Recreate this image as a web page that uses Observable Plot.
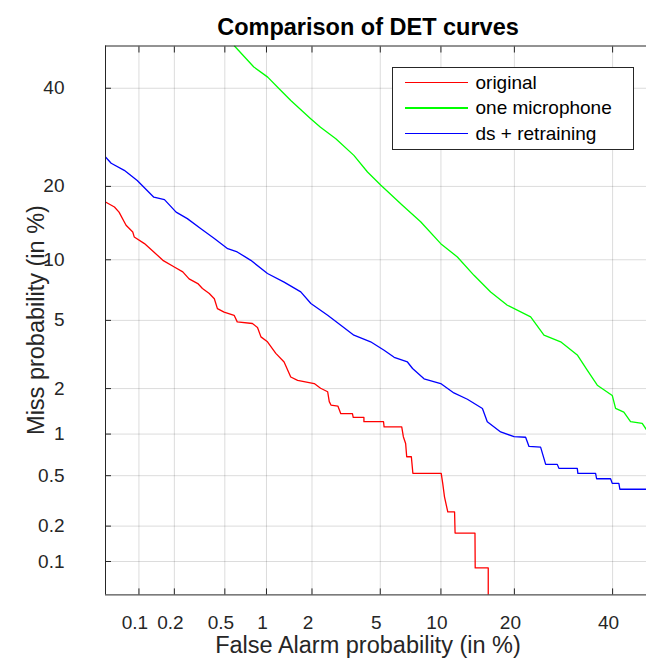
<!DOCTYPE html>
<html>
<head>
<meta charset="utf-8">
<script src="https://cdn.jsdelivr.net/npm/d3@7"></script>
<script src="https://cdn.jsdelivr.net/npm/@observablehq/plot@0.6"></script>
<style>
  body { margin: 0; background: #fff; }
  #wrap { position: relative; width: 646px; height: 661px; overflow: hidden;
          font-family: "Liberation Sans", Arial, Helvetica, sans-serif; color: #262626; }
  #chart { position: absolute; left: 0; top: 0; }
  #title { position: absolute; left: 0; width: 736px; top: 13px; text-align: center;
           font-weight: bold; font-size: 23.5px; line-height: 28px; color: #000; }
  #xlabel { position: absolute; left: 0; width: 736px; top: 632px; text-align: center;
            font-size: 23.5px; line-height: 26px; }
  #ylabel { position: absolute; left: -164px; top: 307px; width: 400px; height: 26px; line-height: 26px;
            text-align: center; font-size: 23.5px; transform: rotate(-90deg); transform-origin: 200px 13px; }
  #legend { position: absolute; left: 391.5px; top: 66.5px; width: 242px; height: 83px; box-sizing: border-box;
            border: 1px solid #262626; background: #fff; }
  .li { position: absolute; left: 0; height: 24px; width: 240px; }
  .sw { position: absolute; left: 12px; top: 11px; width: 63px; height: 1.5px; }
  .lt { position: absolute; left: 83px; top: 0; font-size: 19px; line-height: 24px; color: #000; }
</style>
</head>
<body>
<div id="wrap">
  <div id="chart"></div>
  <div id="title">Comparison of DET curves</div>
  <div id="xlabel">False Alarm probability (in %)</div>
  <div id="ylabel">Miss probability (in %)</div>
  <div id="legend"></div>
</div>
<script>
// ---- data (percent) ----
const tickValues = [0.1, 0.2, 0.5, 1, 2, 5, 10, 20, 40];
const seriesNames = ["original", "one microphone", "ds + retraining"];
const seriesColors = ["#ff0000", "#00ff00", "#0000ff"];

const originalFA = [0.05, 0.0604, 0.0665, 0.0769, 0.0882, 0.0909, 0.1117, 0.1345, 0.1605, 0.1998, 0.2345, 0.2636, 0.3094, 0.3366, 0.3805, 0.4161, 0.4393, 0.4939, 0.5866, 0.6182, 0.7961, 0.8654, 0.915, 1.016, 1.159, 1.318, 1.459, 1.618, 2.066, 2.263, 2.50, 2.557, 2.618, 2.88, 2.997, 3.502, 3.54, 4.069, 4.069, 5.205, 5.24, 6.472, 6.595, 6.773, 6.857, 7.232, 7.358, 10.03, 10.19, 10.38, 10.74, 11.51, 11.57, 14.06, 14.09, 15.91, 15.91];
const originalMiss = [17.48, 16.72, 15.96, 14.12, 13.24, 12.62, 11.81, 10.85, 9.94, 9.26, 8.78, 8.14, 7.72, 7.30, 6.89, 6.49, 5.77, 5.53, 5.32, 4.91, 4.81, 4.58, 4.06, 3.81, 3.27, 2.91, 2.36, 2.25, 2.15, 2.01, 1.91, 1.65, 1.568, 1.544, 1.375, 1.375, 1.299, 1.299, 1.215, 1.215, 1.12, 1.12, 0.959, 0.859, 0.690, 0.690, 0.521, 0.521, 0.437, 0.344, 0.261, 0.261, 0.175, 0.175, 0.0877, 0.0877, 0.04];

const oneMicFA = [0.59, 0.815, 1.02, 1.22, 1.46, 1.97, 2.26, 2.80, 3.57, 4.26, 5.04, 6.52, 8.03, 9.98, 11.84, 13.93, 16.26, 18.84, 22.84, 25.32, 28.62, 32.10, 34.26, 36.50, 39.92, 40.69, 42.62, 44.20, 46.97, 48.0, 50];
const oneMicMiss = [50, 45.0, 42.6, 39.9, 37.2, 33.1, 31.3, 28.9, 25.6, 22.5, 20.2, 17.0, 14.6, 11.8, 10.3, 8.46, 7.02, 6.01, 5.22, 4.15, 3.81, 3.20, 2.60, 2.10, 1.81, 1.49, 1.41, 1.215, 1.184, 1.07, 1.05];

const dsFA = [0.05, 0.0564, 0.0741, 0.0966, 0.1345, 0.1655, 0.2068, 0.2552, 0.3274, 0.4161, 0.5254, 0.6182, 0.7758, 1.016, 1.318, 1.696, 1.968, 2.50, 2.997, 3.571, 4.431, 5.241, 5.918, 6.915, 7.333, 8.336, 9.976, 11.43, 13.07, 15.08, 15.77, 17.78, 19.94, 21.94, 22.54, 24.68, 25.65, 27.94, 28.27, 32.10, 32.23, 36.12, 36.35, 39.53, 39.92, 41.46, 41.69, 50];
const dsMiss = [25.3, 24.1, 22.8, 21.0, 18.24, 17.85, 15.96, 15.04, 13.67, 12.42, 11.22, 10.85, 9.94, 8.63, 7.85, 7.02, 6.13, 5.32, 4.71, 4.15, 3.81, 3.41, 3.10, 2.91, 2.66, 2.30, 2.15, 1.877, 1.71, 1.49, 1.215, 1.034, 0.959, 0.95, 0.819, 0.81, 0.607, 0.607, 0.567, 0.567, 0.521, 0.521, 0.474, 0.474, 0.437, 0.437, 0.394, 0.394];

// ---- normal deviate (probit) ----
function probit(p) {
  const a = [-3.969683028665376e+01, 2.209460984245205e+02, -2.759285104469687e+02, 1.383577518672690e+02, -3.066479806614716e+01, 2.506628277459239e+00];
  const b = [-5.447609879822406e+01, 1.615858368580409e+02, -1.556989798598866e+02, 6.680131188771972e+01, -1.328068155288572e+01];
  const c = [-7.784894002430293e-03, -3.223964580411365e-01, -2.400758277161838e+00, -2.549732539343734e+00, 4.374664141464968e+00, 2.938163982698783e+00];
  const d = [7.784695709041462e-03, 3.224671290700398e-01, 2.445134137142996e+00, 3.754408661907416e+00];
  const plow = 0.02425;
  if (p < plow) {
    const q = Math.sqrt(-2 * Math.log(p));
    return (((((c[0]*q+c[1])*q+c[2])*q+c[3])*q+c[4])*q+c[5]) / ((((d[0]*q+d[1])*q+d[2])*q+d[3])*q+1);
  } else if (p <= 1 - plow) {
    const q = p - 0.5, r = q * q;
    return (((((a[0]*r+a[1])*r+a[2])*r+a[3])*r+a[4])*r+a[5])*q / (((((b[0]*r+b[1])*r+b[2])*r+b[3])*r+b[4])*r+1);
  } else {
    const q = Math.sqrt(-2 * Math.log(1 - p));
    return -(((((c[0]*q+c[1])*q+c[2])*q+c[3])*q+c[4])*q+c[5]) / ((((d[0]*q+d[1])*q+d[2])*q+d[3])*q+1);
  }
}
const zp = v => probit(v / 100);

const toRows = (name, fa, miss) => fa.map((f, i) => ({series: name, fa: f, miss: miss[i]}));
const rows = [
  ...toRows(seriesNames[0], originalFA, originalMiss),
  ...toRows(seriesNames[1], oneMicFA, oneMicMiss),
  ...toRows(seriesNames[2], dsFA, dsMiss)
];

const zmin = zp(0.05), zmax = 0;
const tz = tickValues.map(zp);
const fmt = z => { const i = tz.findIndex(t => Math.abs(t - z) < 1e-9); return i >= 0 ? String(tickValues[i]) : ""; };
const axisColor = "#262626";

const chart = Plot.plot({
  width: 646, height: 661,
  marginTop: 45.5, marginBottom: 66.6, marginLeft: 105, marginRight: 0,
  style: {fontFamily: "'Liberation Sans', Arial, Helvetica, sans-serif", fontSize: "19px", color: axisColor, background: "#fff"},
  x: {domain: [zmin, zmax], range: [105, 654.4]},
  y: {domain: [zmin, zmax]},
  color: {domain: seriesNames, range: seriesColors},
  marks: [
    Plot.gridX(tz, {stroke: "#000", strokeOpacity: 0.14, strokeWidth: 1}),
    Plot.gridY(tz, {stroke: "#000", strokeOpacity: 0.14, strokeWidth: 1}),
    Plot.line(rows, {x: d => zp(d.fa), y: d => zp(d.miss), z: "series", stroke: "series", strokeWidth: 1.3, clip: true}),
    Plot.ruleX([zmin], {stroke: axisColor, strokeWidth: 1}),
    Plot.ruleY([zmin, zmax], {stroke: axisColor, strokeWidth: 1}),
    Plot.axisX(tz, {anchor: "bottom", tickSize: 0, tickPadding: 21, dx: -4, tickFormat: fmt, fontSize: 19, fill: axisColor, label: null}),
    Plot.axisY(tz, {anchor: "left", tickSize: 0, tickPadding: 41, tickFormat: fmt, fontSize: 19, fill: axisColor, label: null}),
    Plot.axisX(tz, {anchor: "bottom", tickSize: 6, dy: -6, fill: "none", stroke: axisColor, label: null}),
    Plot.axisX(tz, {anchor: "top", tickSize: 6, dy: 6, fill: "none", stroke: axisColor, label: null}),
    Plot.axisY(tz, {anchor: "left", tickSize: 6, dx: 6, fill: "none", stroke: axisColor, label: null})
  ]
});
document.getElementById("chart").appendChild(chart);

// legend
const legend = document.getElementById("legend");
seriesNames.forEach((name, i) => {
  const item = document.createElement("div");
  item.className = "li";
  item.style.top = (3 + i * 25.5) + "px";
  const sw = document.createElement("div");
  sw.className = "sw";
  sw.style.background = seriesColors[i];
  const lt = document.createElement("div");
  lt.className = "lt";
  lt.textContent = name;
  item.appendChild(sw); item.appendChild(lt);
  legend.appendChild(item);
});
</script>
</body>
</html>
